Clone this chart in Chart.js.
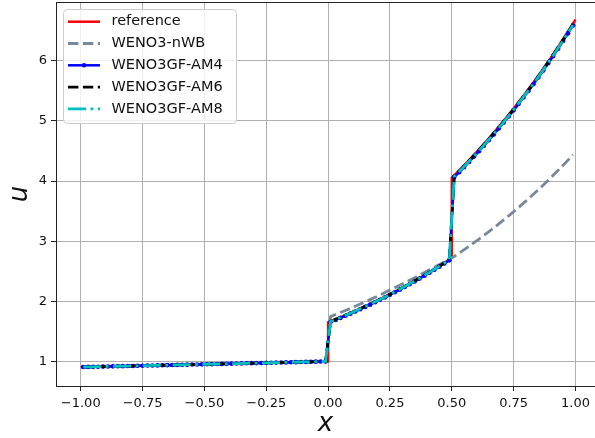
<!DOCTYPE html>
<html>
<head>
<meta charset="utf-8">
<script src="https://cdn.jsdelivr.net/npm/chart.js@4.4.1/dist/chart.umd.min.js"></script>
<style>
html,body{margin:0;padding:0;background:#fff;}
</style>
</head>
<body>
<canvas id="grafico" width="595" height="438"></canvas>
<script>

// =============================
// DADOS
// =============================

const xTicks = [-1, -0.75, -0.5, -0.25, 0, 0.25, 0.5, 0.75, 1];
const yTicks = [1, 2, 3, 4, 5, 6];

// solucao de referencia (saltos em x=0 e x=0.5)
const xRef = [-1, -0.75, -0.5, -0.25, 0, 0, 0.05, 0.1, 0.15, 0.2, 0.25, 0.3, 0.35, 0.4, 0.45, 0.5,
0.5, 0.55, 0.6, 0.65, 0.7, 0.75, 0.8, 0.85, 0.9, 0.95, 1];
const uRef = [0.905, 0.928, 0.951, 0.975, 1.0, 1.649, 1.733, 1.822, 1.916, 2.014, 2.117, 2.226, 2.340, 2.460, 2.586, 2.718,
4.055, 4.263, 4.482, 4.711, 4.953, 5.207, 5.474, 5.755, 6.050, 6.360, 6.686];

// malha numerica (centros das celulas)
const xLeft = [-0.99,-0.97,-0.95,-0.93,-0.91,-0.89,-0.87,-0.85,-0.83,-0.81,
-0.79,-0.77,-0.75,-0.73,-0.71,-0.69,-0.67,-0.65,-0.63,-0.61,
-0.59,-0.57,-0.55,-0.53,-0.51,-0.49,-0.47,-0.45,-0.43,-0.41,
-0.39,-0.37,-0.35,-0.33,-0.31,-0.29,-0.27,-0.25,-0.23,-0.21,
-0.19,-0.17,-0.15,-0.13,-0.11,-0.09,-0.07,-0.05,-0.03,-0.01];
const xMid = [0.01,0.03,0.05,0.07,0.09,0.11,0.13,0.15,0.17,0.19,0.21,0.23,0.25,
0.27,0.29,0.31,0.33,0.35,0.37,0.39,0.41,0.43,0.45,0.47,0.49];
const xRight = [0.51,0.53,0.55,0.57,0.59,0.61,0.63,0.65,0.67,0.69,0.71,0.73,0.75,
0.77,0.79,0.81,0.83,0.85,0.87,0.89,0.91,0.93,0.95,0.97,0.99];

// regiao esquerda (igual para todos os esquemas)
const uLeft = [0.906,0.908,0.909,0.911,0.913,0.915,0.917,0.919,0.920,0.922,
0.924,0.926,0.928,0.930,0.932,0.933,0.935,0.937,0.939,0.941,
0.943,0.945,0.947,0.948,0.950,0.952,0.954,0.956,0.958,0.960,
0.962,0.964,0.966,0.968,0.970,0.971,0.973,0.975,0.977,0.979,
0.981,0.983,0.985,0.987,0.989,0.991,0.993,0.995,0.997,0.999];

// WENO3-nWB
const uNwbMid = [1.745,1.779,1.812,1.846,1.881,1.916,1.953,1.990,2.027,2.066,2.105,2.145,2.187,
2.227,2.267,2.309,2.350,2.393,2.436,2.480,2.524,2.568,2.611,2.656,2.703];
const uNwbRight = [2.746,2.801,2.858,2.915,2.974,3.034,3.096,3.158,3.222,3.287,3.354,3.421,3.490,
3.561,3.633,3.706,3.781,3.857,3.935,4.015,4.096,4.179,4.263,4.349,4.437];

// WENO3GF-AM4
const uAm4Mid = [1.655,1.689,1.723,1.758,1.794,1.830,1.868,1.906,1.944,1.984,2.024,2.065,2.107,
2.150,2.193,2.238,2.283,2.330,2.377,2.425,2.474,2.525,2.576,2.628,2.681];
const uAm4Right = [4.066,4.149,4.233,4.319,4.407,4.497,4.588,4.682,4.777,4.874,4.973,5.074,5.177,
5.282,5.390,5.499,5.611,5.725,5.841,5.960,6.080,6.204,6.330,6.458,6.589];

// WENO3GF-AM6
const uAm6Mid = [1.665,1.699,1.733,1.768,1.804,1.840,1.878,1.916,1.954,1.994,2.034,2.075,2.117,
2.160,2.203,2.248,2.293,2.340,2.387,2.435,2.484,2.535,2.586,2.638,2.691];
const uAm6Right = [4.086,4.169,4.253,4.339,4.427,4.517,4.608,4.702,4.797,4.894,4.993,5.094,5.197,
5.302,5.410,5.519,5.631,5.745,5.861,5.980,6.100,6.224,6.350,6.478,6.609];

// WENO3GF-AM8
const uAm8Mid = [1.662,1.696,1.730,1.765,1.801,1.837,1.875,1.913,1.951,1.991,2.031,2.072,2.114,
2.157,2.200,2.245,2.290,2.337,2.384,2.432,2.481,2.532,2.583,2.635,2.688];
const uAm8Right = [4.076,4.159,4.243,4.329,4.417,4.507,4.598,4.692,4.787,4.884,4.983,5.084,5.187,
5.292,5.400,5.509,5.621,5.735,5.851,5.970,6.090,6.214,6.340,6.468,6.599];

const xNum = [...xLeft, ...xMid, ...xRight];

function pontos(xs, ys){
return xs.map((x,i)=>({x:x, y:ys[i]}));
}


// =============================
// PLUGIN: MOLDURA + LEGENDA
// =============================

const molduraLegenda = {
id: "molduraLegenda",
afterDatasetsDraw(chart){

const ctx = chart.ctx;
const area = chart.chartArea;

ctx.save();

// spine superior
ctx.strokeStyle = "#222";
ctx.lineWidth = 1;
ctx.beginPath();
ctx.moveTo(area.left, area.top + 0.5);
ctx.lineTo(area.right, area.top + 0.5);
ctx.stroke();

// caixa da legenda
ctx.fillStyle = "rgba(255,255,255,0.8)";
ctx.strokeStyle = "#cccccc";
ctx.beginPath();
ctx.roundRect(63.5, 9.5, 173, 114, 4);
ctx.fill();
ctx.stroke();

ctx.font = "14.5px 'DejaVu Sans'";
ctx.textBaseline = "middle";

chart.data.datasets.forEach((ds,i)=>{

const y = 21.7 + i*21.8;

ctx.strokeStyle = ds.borderColor;
ctx.lineWidth = ds.borderWidth;
ctx.setLineDash(ds.borderDash || []);
ctx.beginPath();
ctx.moveTo(68, y);
ctx.lineTo(100, y);
ctx.stroke();
ctx.setLineDash([]);

if(ds.pointRadius > 0){
ctx.fillStyle = ds.pointBackgroundColor;
ctx.beginPath();
ctx.arc(84, y, ds.pointRadius, 0, Math.PI*2);
ctx.fill();
}

ctx.fillStyle = "#111";
ctx.fillText(ds.label, 111.5, y);

});

ctx.restore();

}
};


// =============================
// GRAFICO
// =============================

Chart.defaults.font.family = "'DejaVu Sans', sans-serif";
Chart.defaults.color = "#111";

const ctx = document.getElementById("grafico").getContext("2d");

new Chart(ctx, {
type: "line",
data: {
datasets: [
{
label: "reference",
data: pontos(xRef, uRef),
borderColor: "#ff0000",
borderWidth: 2.5,
pointRadius: 0,
order: 5
},
{
label: "WENO3-nWB",
data: pontos(xNum, [...uLeft, ...uNwbMid, ...uNwbRight]),
borderColor: "#778899",
borderWidth: 2.8,
borderDash: [10.4, 4.5],
pointRadius: 0,
order: 4
},
{
label: "WENO3GF-AM4",
data: pontos(xNum, [...uLeft, ...uAm4Mid, ...uAm4Right]),
borderColor: "#0000ff",
borderWidth: 2.5,
pointRadius: 2.3,
pointBackgroundColor: "#0000ff",
pointBorderWidth: 0,
order: 3
},
{
label: "WENO3GF-AM6",
data: pontos(xNum, [...uLeft, ...uAm6Mid, ...uAm6Right]),
borderColor: "#000000",
borderWidth: 2.8,
borderDash: [10.4, 4.5],
pointRadius: 0,
order: 2
},
{
label: "WENO3GF-AM8",
data: pontos(xNum, [...uLeft, ...uAm8Mid, ...uAm8Right]),
borderColor: "#00bfbf",
borderWidth: 2.8,
borderDash: [18, 4.5, 2.8, 4.5],
pointRadius: 0,
order: 1
}
]
},
options: {
responsive: false,
animation: false,
layout: { autoPadding: false, padding: { top: 2, right: 0, bottom: 0, left: 0 } },
plugins: {
legend: { display: false },
tooltip: { enabled: false }
},
elements: { line: { tension: 0 } },
scales: {
x: {
type: "linear",
min: -1.1,
max: 1.079,
afterBuildTicks: (scale)=>{ scale.ticks = xTicks.map(v=>({value:v})); },
afterFit: (scale)=>{
scale.height = 52;
scale.paddingLeft = 0;
scale.paddingRight = 0;
},
ticks: {
font: { size: 13 },
color: "#111",
padding: 5,
maxRotation: 0,
callback: (v)=>v.toFixed(2).replace("-", "\u2212")
},
grid: {
color: "#b0b0b0",
lineWidth: 1,
drawTicks: true,
tickLength: 5,
tickColor: "#222",
tickWidth: 1
},
border: { display: true, color: "#222", width: 1 },
title: {
display: true,
text: "x",
color: "#111",
font: { size: 26, style: "italic", lineHeight: 1 },
padding: { top: 0, bottom: 1 }
}
},
y: {
type: "linear",
min: 0.59,
max: 6.98,
afterBuildTicks: (scale)=>{ scale.ticks = yTicks.map(v=>({value:v})); },
afterFit: (scale)=>{
scale.width = 56;
scale.paddingTop = 0;
scale.paddingBottom = 0;
},
ticks: {
font: { size: 13 },
color: "#111",
padding: 4,
callback: (v)=>String(v)
},
grid: {
color: "#b0b0b0",
lineWidth: 1,
drawTicks: true,
tickLength: 5,
tickColor: "#222",
tickWidth: 1
},
border: { display: true, color: "#222", width: 1 },
title: {
display: true,
text: "u",
color: "#111",
font: { size: 26, style: "italic", lineHeight: 1 },
padding: { top: 7, bottom: 0 }
}
}
}
},
plugins: [molduraLegenda]
});

</script>
</body>
</html>
